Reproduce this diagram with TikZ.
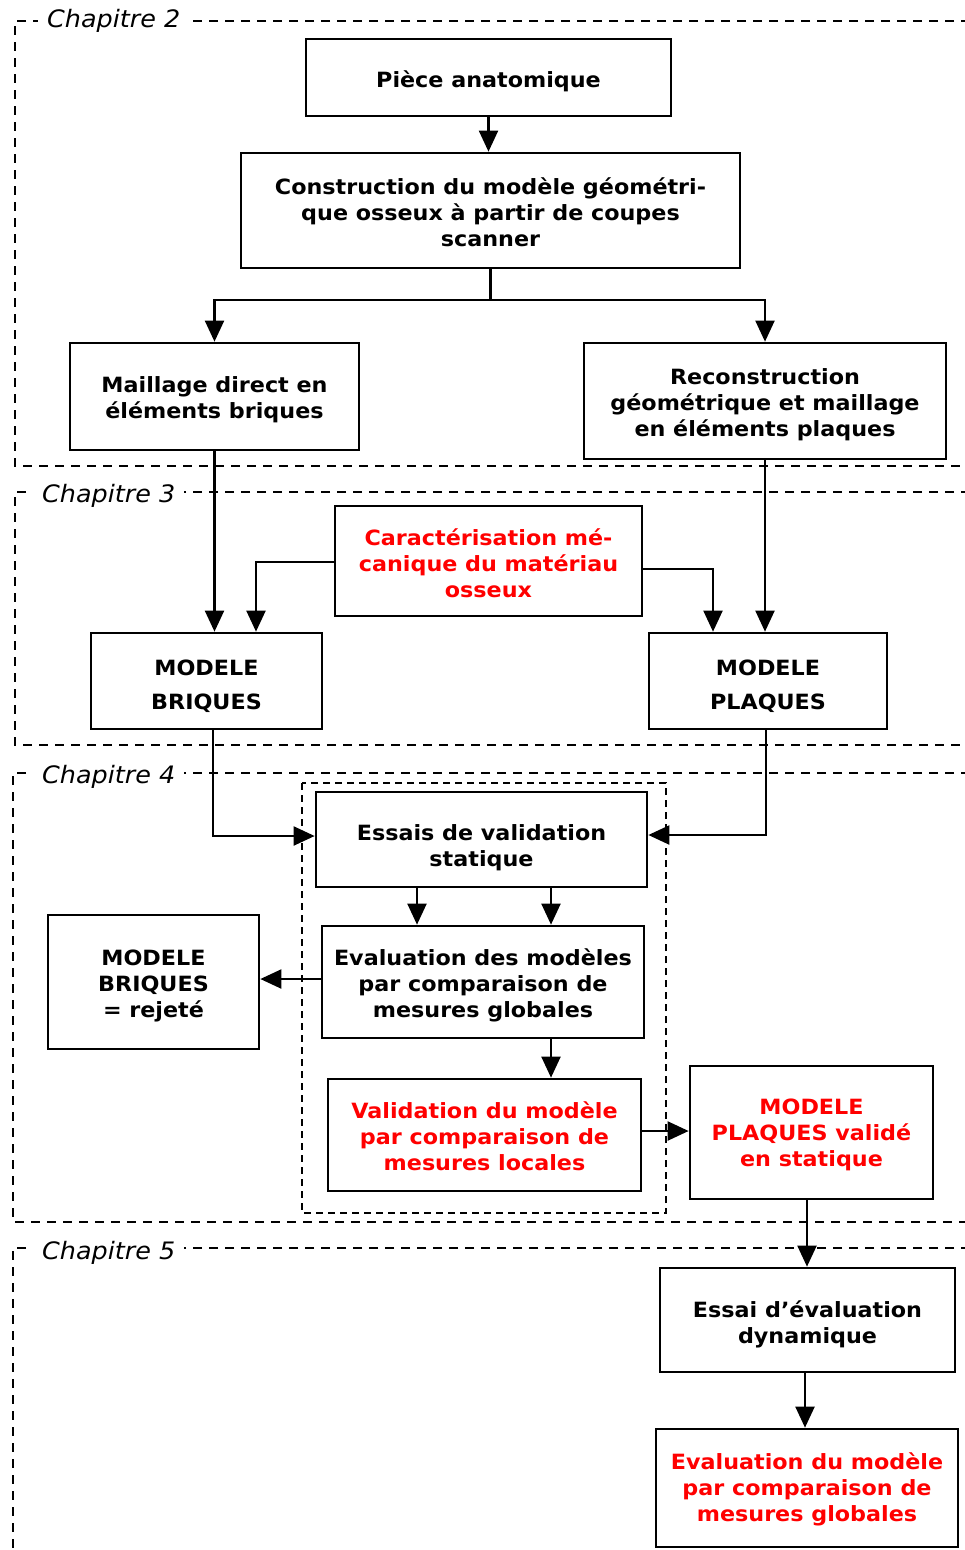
\documentclass[tikz,border=0pt]{standalone}
\usepackage{fontspec}
\setmainfont{DejaVu Sans}[FakeStretch=1.06]
\usetikzlibrary{arrows.meta}
\tikzset{
  box/.style={draw, line width=2.7pt, fill=white, inner sep=0pt},
  txt/.style={align=center, inner sep=0pt, font=\bfseries\fontsize{21}{26}\selectfont},
  bigtxt/.style={txt, font=\bfseries\fontsize{21}{34}\selectfont},
  redtxt/.style={text=red},
  conn/.style={line width=2.1pt},
  arr/.style={conn, -{Triangle[length=21pt,width=19pt]}},
  chap/.style={line width=2pt, dash pattern=on 9pt off 7pt},
  inframe/.style={line width=1.8pt, dash pattern=on 7pt off 5pt},
  chaplabel/.style={fill=white, anchor=west, inner xsep=9pt, inner ysep=2pt,
    font=\itshape\fontsize{24}{28}\selectfont}
}
\begin{document}
\begin{tikzpicture}[x=1pt,y=-1pt]
\useasboundingbox (0,0) rectangle (965,1550);
\clip (0,0) rectangle (965,1550);

% chapter frames
\draw[chap] (970,21) -- (15,21) -- (15,466) -- (970,466);
\node[chaplabel] (c2) at (38,21) {Chapitre 2};
\draw[chap] (970,492) -- (15,492) -- (15,745) -- (970,745);
\node[chaplabel] (c3) at (33,496) {Chapitre 3};
\draw[chap] (970,773) -- (13,773) -- (13,1222) -- (970,1222);
\node[chaplabel] (c4) at (33,777) {Chapitre 4};
\draw[chap] (970,1248) -- (13,1248) -- (13,1560);
\node[chaplabel] (c5) at (33,1253) {Chapitre 5};

% inner frame
\draw[inframe] (302,783) rectangle (666,1213);

% boxes
\node[box, minimum width=365pt, minimum height=77pt] (piece) at (488.5,77.5) {};
\node[txt] (piece-t) at ([yshift=-4pt]piece.center) {Pièce anatomique};

\node[box, minimum width=499pt, minimum height=115pt] (constr) at (490.5,210.5) {};
\node[txt] (constr-t) at ([yshift=-2pt]constr.center)
  {Construction du modèle géométri-\\que osseux à partir de coupes\\scanner};

\node[box, minimum width=289pt, minimum height=107pt] (maillage) at (214.5,396.5) {};
\node[txt] (maillage-t) at ([yshift=-3pt]maillage.center) {Maillage direct en\\éléments briques};

\node[box, minimum width=362pt, minimum height=116pt] (recon) at (765,401) {};
\node[txt] (recon-t) at ([yshift=-4pt]recon.center)
  {Reconstruction\\géométrique et maillage\\en éléments plaques};

\node[box, minimum width=307pt, minimum height=110pt] (carac) at (488.5,561) {};
\node[txt, redtxt] (carac-t) at ([yshift=-2pt]carac.center)
  {Caractérisation mé-\\canique du matériau\\osseux};

\node[box, minimum width=231pt, minimum height=96pt] (briques) at (206.5,681) {};
\node[bigtxt] (briques-t) at ([yshift=-5pt]briques.center) {MODELE\\BRIQUES};

\node[box, minimum width=238pt, minimum height=96pt] (plaques) at (768,681) {};
\node[bigtxt] (plaques-t) at ([yshift=-5pt]plaques.center) {MODELE\\PLAQUES};

\node[box, minimum width=331pt, minimum height=95pt] (essais) at (481.5,839.5) {};
\node[txt] (essais-t) at ([yshift=-8pt]essais.center) {Essais de validation\\statique};

\node[box, minimum width=322pt, minimum height=112pt] (evalm) at (483,982) {};
\node[txt] (evalm-t) at ([yshift=-3pt]evalm.center)
  {Evaluation des modèles\\par comparaison de\\mesures globales};

\node[box, minimum width=211pt, minimum height=134pt] (rejete) at (153.5,982) {};
\node[txt] (rejete-t) at ([yshift=-4pt]rejete.center) {MODELE\\BRIQUES\\= rejeté};

\node[box, minimum width=313pt, minimum height=112pt] (valid) at (484.5,1135) {};
\node[txt, redtxt] (valid-t) at ([yshift=-1pt]valid.center)
  {Validation du modèle\\par comparaison de\\mesures locales};

\node[box, minimum width=243pt, minimum height=133pt] (plaqval) at (811.5,1132.5) {};
\node[txt, redtxt] (plaqval-t) at ([yshift=-2pt]plaqval.center)
  {MODELE\\PLAQUES validé\\en statique};

\node[box, minimum width=295pt, minimum height=104pt] (dyn) at (807.5,1320) {};
\node[txt] (dyn-t) at ([yshift=-4pt]dyn.center) {Essai d’évaluation\\dynamique};

\node[box, minimum width=302pt, minimum height=118pt] (evalred) at (807,1488) {};
\node[txt, redtxt] (evalred-t) at ([yshift=-1pt]evalred.center)
  {Evaluation du modèle\\par comparaison de\\mesures globales};

% helper coordinates
\coordinate (split) at (489,300);
\coordinate (cb) at (256,562);
\coordinate (cp) at (713,569);
\coordinate (be) at (213,836);
\coordinate (pe) at (766,835);
\coordinate (e1) at (417,900);
\coordinate (e2) at (551,900);
\coordinate (er) at (290,979);
\coordinate (vp) at (660,1131);
\coordinate (d1) at (807,1230);
\coordinate (d2) at (805,1400);

% connectors
\draw[arr] (piece.south) -- (piece.south |- constr.north);
\draw[conn] (constr.south) -- (constr.south |- split);
\draw[arr] (constr.south |- split) -| (maillage.north);
\draw[arr] (constr.south |- split) -| (recon.north);
\draw[arr] (maillage.south) -- (maillage.south |- briques.north);
\draw[arr] (recon.south) -- (recon.south |- plaques.north);
\draw[arr] (carac.west |- cb) -| (cb |- briques.north);
\draw[arr] (carac.east |- cp) -| (cp |- plaques.north);
\draw[arr] (briques.south -| be) |- (essais.west |- be);
\draw[arr] (plaques.south -| pe) |- (essais.east |- pe);
\draw[arr] (essais.south -| e1) -- (evalm.north -| e1);
\draw[arr] (essais.south -| e2) -- (evalm.north -| e2);
\draw[arr] (evalm.west |- er) -- (rejete.east |- er);
\draw[arr] (evalm.south -| e2) -- (valid.north -| e2);
\draw[arr] (valid.east |- vp) -- (plaqval.west |- vp);
\draw[arr] (plaqval.south -| d1) -- (dyn.north -| d1);
\draw[arr] (dyn.south -| d2) -- (evalred.north -| d2);
\end{tikzpicture}
\end{document}
